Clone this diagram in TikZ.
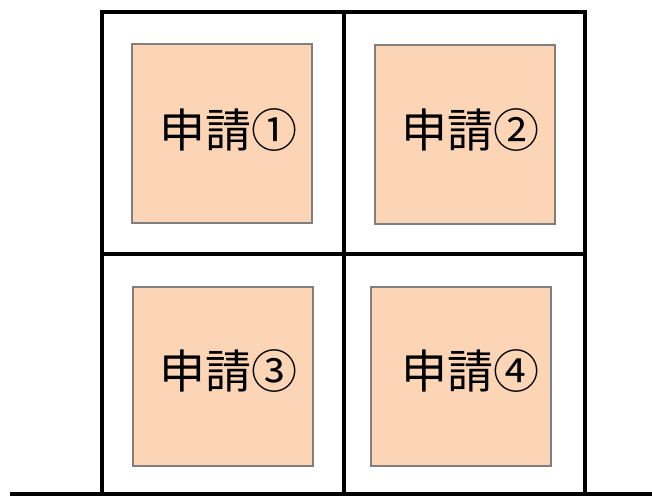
\documentclass[tikz,border=0pt]{standalone}
\usepackage{fontspec}
\newfontfamily\cjk{Noto Sans CJK JP}
\definecolor{peach}{HTML}{FBD5B5}
\definecolor{edgegray}{HTML}{7F7F7F}
\begin{document}
\begin{tikzpicture}[x=1pt,y=-1pt,
  wall/.style={line width=4.5pt,black},
  plot/.style={draw=edgegray,line width=2pt,fill=peach,minimum width=180pt,minimum height=179pt,inner sep=0pt,anchor=north west},
  lbl/.style={font=\cjk\fontsize{46}{54}\selectfont,inner sep=0pt}]
\useasboundingbox (0,0) rectangle (652,497);
% plots
\node[plot] (p1) at (131,43) {};
\node[plot] (p2) at (374,44) {};
\node[plot] (p3) at (132,286) {};
\node[plot] (p4) at (370,286) {};
\node[lbl] (t1) at (228,130) {申請①};
\node[lbl] (t2) at (470,130) {申請②};
\node[lbl] (t3) at (228,371) {申請③};
\node[lbl] (t4) at (470,371) {申請④};
% walls
\draw[wall] (102,12) -- (586,12);
\draw[wall] (102,254) -- (586,254);
\draw[wall] (102,10) -- (102,494);
\draw[wall] (344,10) -- (344,494);
\draw[wall] (585,10) -- (585,494);
\draw[wall] (10,494) -- (652,494);
\end{tikzpicture}
\end{document}
